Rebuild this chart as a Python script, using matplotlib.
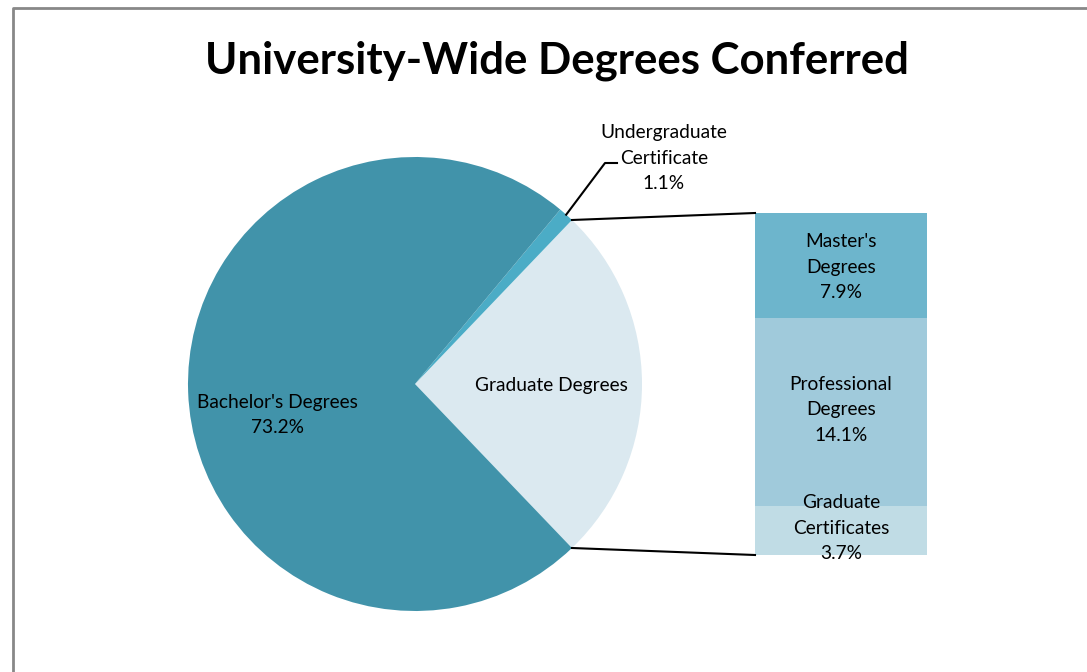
import numpy as np
import matplotlib.pyplot as plt

# pie slices (percent)
pie_labels = ["Graduate Degrees", "Undergraduate\nCertificate", "Bachelor's Degrees"]
pie_values = [25.7, 1.1, 73.2]
pie_colors = ["#dbe9f0", "#4bacc6", "#4193aa"]

# breakdown of the graduate slice (bottom to top)
bar_labels = ["Graduate\nCertificates", "Professional\nDegrees", "Master's\nDegrees"]
bar_values = [3.7, 14.1, 7.9]
bar_colors = ["#c0dce5", "#a0cadb", "#6db5cc"]

plt.rcParams['font.family'] = ['Lato', 'DejaVu Sans']

W, H = 1087, 672
fig = plt.figure(figsize=(W / 100, H / 100), dpi=100)
ax = fig.add_axes([0, 0, 1, 1])
ax.set_aspect('equal')
ax.axis('off')

# border (top and left only, cropped chart frame)
ax.plot([13, 13, W], [0, H - 8, H - 8], color='#888888', lw=2, solid_capstyle='butt')

cx, cy, r = 415, H - 384, 227
start = -pie_values[0] / 100 * 360 / 2
wedges, _ = ax.pie(pie_values, colors=pie_colors, startangle=start,
                   center=(cx, cy), radius=r, counterclock=True,
                   wedgeprops=dict(linewidth=0))
ax.set_xlim(0, W)
ax.set_ylim(0, H)

# stacked bar
bx, bw = 755, 172
scale = 342 / sum(bar_values)
bar_bot = H - 555
bottom = bar_bot
for v, c in zip(bar_values, bar_colors):
    ax.bar(bx + bw / 2, v * scale, width=bw, bottom=bottom, color=c, linewidth=0)
    bottom += v * scale
bar_top = bottom

# connector lines
g = wedges[0]
for ang, yb in [(g.theta2, bar_top), (g.theta1, bar_bot)]:
    a = np.deg2rad(ang)
    ax.plot([cx + r * np.cos(a), bx], [cy + r * np.sin(a), yb], color='black', lw=1.5)

fs = 13.8
ls = 1.6
# bar labels
ax.text(bx + bw / 2, H - 267, f"{bar_labels[2]}\n{bar_values[2]}%", ha='center', va='center',
        fontsize=fs, linespacing=ls)
ax.text(bx + bw / 2, H - 410, f"{bar_labels[1]}\n{bar_values[1]}%", ha='center', va='center',
        fontsize=fs, linespacing=ls)
ax.text(bx + bw / 2, H - 528, f"{bar_labels[0]}\n{bar_values[0]}%", ha='center', va='center',
        fontsize=fs, linespacing=ls)

# pie labels
ax.text(277, H - 415, f"{pie_labels[2]}\n{pie_values[2]}%", ha='center', va='center',
        fontsize=fs, linespacing=ls)
ax.text(551, H - 386, pie_labels[0], ha='center', va='center', fontsize=fs)
ax.text(664, H - 158, f"{pie_labels[1]}\n{pie_values[1]}%", ha='center', va='center',
        fontsize=fs, linespacing=ls)

# leader for undergraduate certificate
u = wedges[1]
a = np.deg2rad((u.theta1 + u.theta2) / 2)
ax.plot([cx + r * np.cos(a), 605, 617], [cy + r * np.sin(a), H - 163, H - 163],
        color='black', lw=1.5)

fig.text(557 / W, 1 - 61 / H, "University-Wide Degrees Conferred", ha='center', va='center',
         fontsize=31.5, fontweight='bold')

fig.savefig('out.png', dpi=100)
